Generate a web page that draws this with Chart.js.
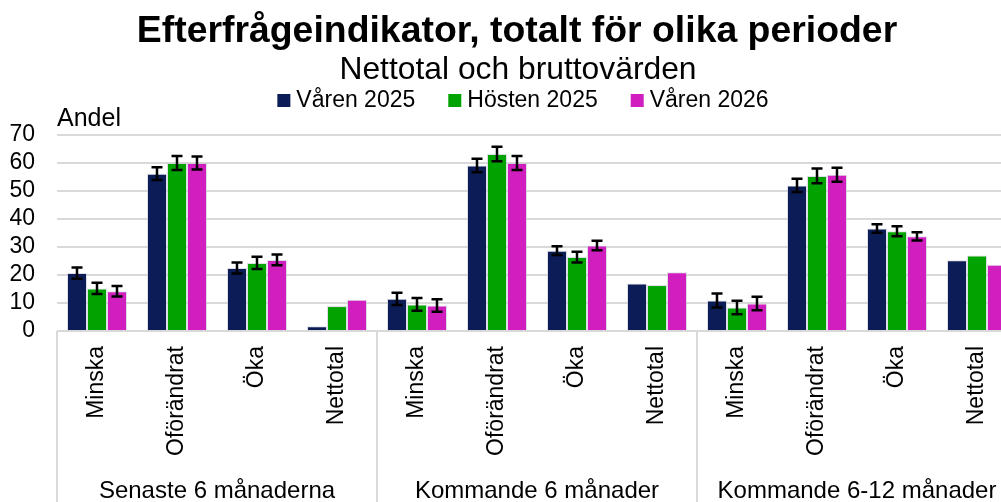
<!DOCTYPE html>
<html lang="sv">
<head>
  <meta charset="UTF-8"/>
  <title>Efterfrågeindikator</title>
  <script src="https://cdn.jsdelivr.net/npm/chart.js"></script>
  <style>
    html, body { margin:0; padding:0; background:#fff; overflow:hidden; }
    canvas { display:block; }
  </style>
</head>
<body>
<canvas id="chart" width="1034" height="502"></canvas>

<script>
  // Data
  const categories = ['Minska','Oförändrat','Öka','Nettotal',
                      'Minska','Oförändrat','Öka','Nettotal',
                      'Minska','Oförändrat','Öka','Nettotal'];
  const groups = ['Senaste 6 månaderna','Kommande 6 månader','Kommande 6-12 månader'];
  const seriesNames = ['Våren 2025','Hösten 2025','Våren 2026'];
  const seriesColors = ['#0c1c56','#00a300','#d01fbe'];

  const varen2025  = [20.7, 56.2, 22.5, 1.7, 11.5, 59.1, 28.7, 17.0, 10.9, 52.0, 36.6, 25.3];
  const hosten2025 = [15.2, 60.0, 24.3, 8.9,  9.5, 63.2, 26.4, 16.4,  8.4, 55.4, 35.6, 27.0];
  const varen2026  = [14.2, 60.0, 25.4, 11.2, 9.1, 60.0, 30.5, 21.0,  9.8, 55.8, 33.8, 23.7];

  // half-width of the error bars (no bars for Nettotal)
  const errV2025 = [2.0, 2.3, 2.0, null, 2.2, 2.4, 1.6, null, 2.5, 2.4, 1.5, null];
  const errH2025 = [2.0, 2.5, 2.2, null, 2.3, 2.6, 1.9, null, 2.4, 2.6, 1.8, null];
  const errV2026 = [1.9, 2.3, 1.9, null, 2.2, 2.5, 1.7, null, 2.4, 2.5, 1.5, null];

  const yMin = 0, yMax = 70, yStep = 10;

  const FONT = "'Liberation Sans', Arial, sans-serif";
  const GRID = '#d9d9d9';

  // Error bars on top of the bars
  const errorBars = {
    id:'errorBars',
    afterDatasetsDraw(chart){
      const ctx = chart.ctx, y = chart.scales.y;
      chart.data.datasets.forEach((ds, di) => {
        const meta = chart.getDatasetMeta(di);
        meta.data.forEach((bar, i) => {
          const e = ds.errors[i];
          if(e == null) return;
          const v = ds.data[i];
          const top = y.getPixelForValue(v + e), bot = y.getPixelForValue(v - e);
          ctx.save();
          ctx.strokeStyle = '#000'; ctx.lineWidth = 2.5;
          ctx.beginPath();
          ctx.moveTo(bar.x, top); ctx.lineTo(bar.x, bot);
          ctx.moveTo(bar.x - 5.5, top); ctx.lineTo(bar.x + 5.5, top);
          ctx.moveTo(bar.x - 5.5, bot); ctx.lineTo(bar.x + 5.5, bot);
          ctx.stroke();
          ctx.restore();
        });
      });
    }
  };

  // Titles, legend, axis label, group labels and separators
  const decorations = {
    id:'decorations',
    beforeDraw(chart){
      const ctx = chart.ctx;
      ctx.save();
      ctx.fillStyle = '#fff';
      ctx.fillRect(0, 0, chart.width, chart.height);
      ctx.restore();
    },
    afterDraw(chart){
      const ctx = chart.ctx, x = chart.scales.x, area = chart.chartArea;
      ctx.save();
      ctx.fillStyle = '#000';
      ctx.textBaseline = 'alphabetic';

      ctx.textAlign = 'center';
      ctx.font = `bold 37.4px ${FONT}`;
      ctx.fillText('Efterfrågeindikator, totalt för olika perioder', 517, 42);
      ctx.font = `31.8px ${FONT}`;
      ctx.fillText('Nettotal och bruttovärden', 518, 79);

      // legend
      ctx.font = `23px ${FONT}`;
      const box = 13, gap = 6, spacing = 33;
      const widths = seriesNames.map(n => box + gap + ctx.measureText(n).width);
      const total = widths.reduce((a,b)=>a+b,0) + spacing*(seriesNames.length-1);
      let lx = 523 - total/2;
      ctx.textAlign = 'left';
      seriesNames.forEach((n, i) => {
        ctx.fillStyle = seriesColors[i];
        ctx.fillRect(lx, 94, box, box);
        ctx.fillStyle = '#000';
        ctx.fillText(n, lx + box + gap, 107);
        lx += widths[i] + spacing;
      });

      // y axis title
      ctx.font = `25px ${FONT}`;
      ctx.fillText('Andel', 57, 126);

      // group separators and labels
      const w = (x.right - x.left) / categories.length;
      ctx.strokeStyle = GRID; ctx.lineWidth = 2;
      for(let k = 0; k <= groups.length; k++){
        const px = Math.round(x.left + k*4*w);
        ctx.beginPath();
        ctx.moveTo(px, area.bottom); ctx.lineTo(px, chart.height);
        ctx.stroke();
      }
      ctx.font = `24px ${FONT}`;
      ctx.textAlign = 'center';
      ctx.fillStyle = '#000';
      groups.forEach((g, k) => ctx.fillText(g, x.left + (k*4 + 2)*w, 498));
      ctx.restore();
    }
  };

  new Chart(document.getElementById('chart'), {
    type:'bar',
    data:{
      labels:categories,
      datasets:[
        {label:seriesNames[0], data:varen2025,  errors:errV2025, backgroundColor:seriesColors[0]},
        {label:seriesNames[1], data:hosten2025, errors:errH2025, backgroundColor:seriesColors[1]},
        {label:seriesNames[2], data:varen2026,  errors:errV2026, backgroundColor:seriesColors[2]}
      ].map(d => Object.assign(d, {
        borderColor:'rgba(200,200,215,0.6)', borderWidth:1,
        categoryPercentage:0.75, barPercentage:1
      }))
    },
    options:{
      responsive:false,
      animation:false,
      layout:{padding:{top:135, right:17, bottom:0, left:0}},
      plugins:{legend:{display:false}, title:{display:false}, tooltip:{enabled:false}},
      scales:{
        x:{
          grid:{display:false, drawTicks:false},
          border:{display:false},
          ticks:{autoSkip:false, minRotation:90, maxRotation:90, padding:15,
                 color:'#000', font:{family:FONT, size:23}},
          afterFit(scale){ scale.height = 171; }
        },
        y:{
          min:yMin, max:yMax,
          grid:{color:GRID, lineWidth:2, drawTicks:false},
          border:{display:false},
          ticks:{stepSize:yStep, autoSkip:false, padding:22, color:'#000',
                 font:{family:FONT, size:23}},
          afterFit(scale){ scale.width = 57; }
        }
      }
    },
    plugins:[errorBars, decorations]
  });
</script>
</body>
</html>
